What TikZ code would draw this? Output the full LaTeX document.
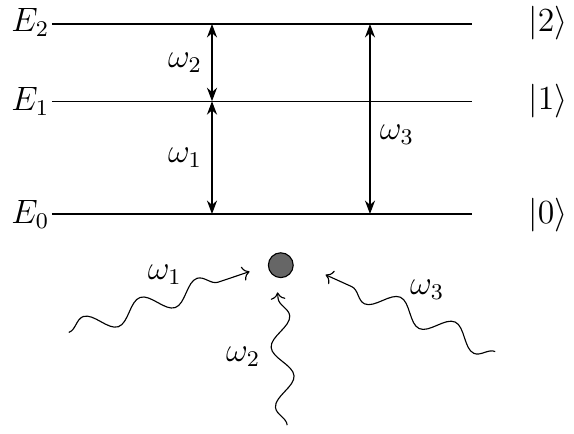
\documentclass[tikz,border=0pt]{standalone}
\usepackage{amsmath}
\usepackage{tikz}
\usetikzlibrary{arrows.meta,decorations.pathmorphing}

\begin{document}
\begin{tikzpicture}[every node/.style={font=\large},
    level/.style={thin},
    trans/.style={Stealth-Stealth, thin},
    photon/.style={-To, thin, decorate, decoration={snake, amplitude=1.3mm, segment length=7.5mm, post length=0.6mm}}]
    \useasboundingbox (0,0) rectangle (7.175,5.425);
    % energy levels
    \node (E2) at (0.38,5.14) {$E_2$};
    \node (E1) at (0.38,4.16) {$E_1$};
    \node (E0) at (0.38,2.74) {$E_0$};
    \node (k2) at (6.85,5.14) {$|2\rangle$};
    \node (k1) at (6.85,4.16) {$|1\rangle$};
    \node (k0) at (6.85,2.74) {$|0\rangle$};
    \coordinate (l2a) at (0.65,5.125); \coordinate (l2b) at (5.9,5.125);
    \coordinate (l1a) at (0.65,4.16); \coordinate (l1b) at (5.9,4.16);
    \coordinate (l0a) at (0.65,2.75); \coordinate (l0b) at (5.9,2.75);
    \draw[level] (l2a) -- (l2b) (l1a) -- (l1b) (l0a) -- (l0b);
    % transitions
    \coordinate (t2) at (2.65,5.125); \coordinate (t1) at (2.65,4.16); \coordinate (t0) at (2.65,2.75);
    \coordinate (u2) at (4.625,5.125); \coordinate (u0) at (4.625,2.75);
    \draw[trans] (t1) -- (t2) node[midway, left] {$\omega_2$};
    \draw[trans] (t0) -- (t1) node[midway, left] {$\omega_1$};
    \draw[trans] (u0) -- (u2) node[midway, right, yshift=-2mm] {$\omega_3$};
    % atom and photons
    \node[circle, draw, fill=black!60, minimum size=3.1mm, inner sep=0pt] (atom) at (3.51,2.11) {};
    \coordinate (p1) at (0.86,1.27); \coordinate (p1e) at (3.12,2.03);
    \coordinate (p3) at (6.19,1.03); \coordinate (p3e) at (4.07,1.99);
    \coordinate (p2) at (3.59,0.11); \coordinate (p2e) at (3.47,1.77);
    \draw[photon] (p1) -- (p1e);
    \draw[photon] (p3) -- (p3e);
    \draw[photon] (p2) -- (p2e);
    \node (w1) at (2.06,1.99) {$\omega_1$};
    \node (w3) at (5.34,1.8) {$\omega_3$};
    \node (w2) at (3.04,0.96) {$\omega_2$};
\end{tikzpicture}
\end{document}
